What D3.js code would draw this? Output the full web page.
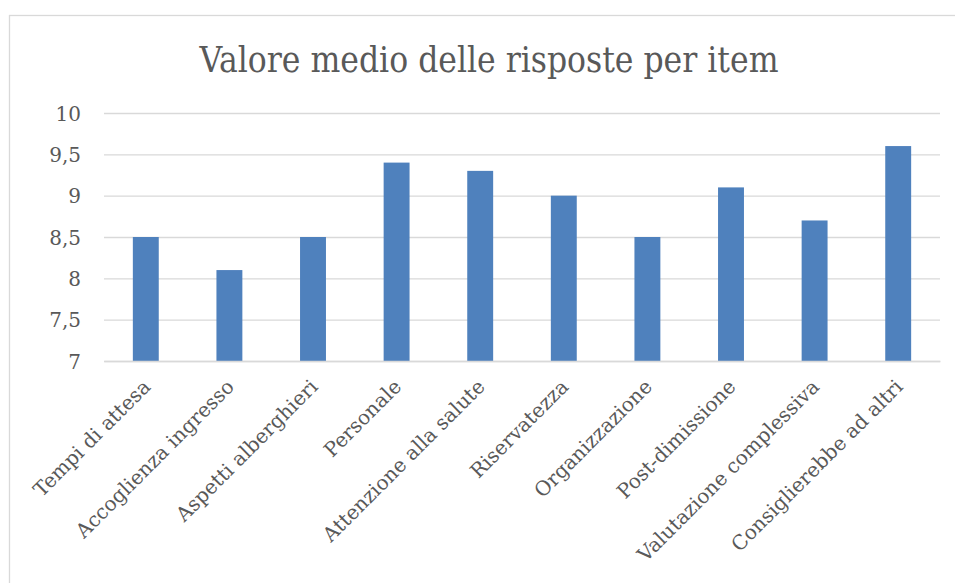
<!DOCTYPE html>
<html>
<head>
<meta charset="utf-8">
<script src="https://cdn.jsdelivr.net/npm/d3@7"></script>
<style>
  html, body { margin: 0; padding: 0; background: #fff; }
  svg text { font-family: "DejaVu Serif", serif; fill: #595959; }
  svg text.title { font-stretch: condensed; }
</style>
</head>
<body>
<div id="chart"></div>
<script>
(function() {

    var categories = ["Tempi di attesa", "Accoglienza ingresso", "Aspetti alberghieri", "Personale",
        "Attenzione alla salute", "Riservatezza", "Organizzazione", "Post-dimissione",
        "Valutazione complessiva", "Consiglierebbe ad altri"]
    var values = [8.5, 8.1, 8.5, 9.4, 9.3, 9.0, 8.5, 9.1, 8.7, 9.6]
    var yTicks = [7, 7.5, 8, 8.5, 9, 9.5, 10]
    var yTickLabels = ["7", "7,5", "8", "8,5", "9", "9,5", "10"]
    var title = "Valore medio delle risposte per item"

    var width = 955, height = 583
    var left = 104, right = 940, top = 113, bottom = 361

    var svg = d3.select("#chart").append("svg")
        .attr("width", width)
        .attr("height", height)

    // chart frame (right and bottom edges fall outside the picture)
    svg.append("rect")
        .attr("x", 9.5).attr("y", 15.5)
        .attr("width", 970).attr("height", 600)
        .attr("fill", "#fff")
        .attr("stroke", "#d9d9d9")
        .attr("stroke-width", 1.3)

    var x = d3.scaleBand()
        .domain(categories)
        .range([left, right])
        .paddingInner(0.69)
        .paddingOuter(0.345)

    var y = d3.scaleLinear()
        .domain([7, 10])
        .range([bottom, top])

    svg.append("text")
        .attr("class", "title")
        .attr("x", 489)
        .attr("y", 72)
        .attr("text-anchor", "middle")
        .style("font-size", "35px")
        .text(title)

    var yAxis = d3.axisLeft(y)
        .tickValues(yTicks)
        .tickFormat(function(d, i) { return yTickLabels[i] })
        .tickSize(-(right - left))
        .tickPadding(23)

    var gy = svg.append("g")
        .attr("transform", "translate(" + left + ",0)")
        .call(yAxis)
    gy.select(".domain").remove()
    gy.selectAll("line").attr("stroke", "#d9d9d9").attr("stroke-width", 1.3)
    gy.selectAll("text")
        .style("font-size", "20px")
        .attr("dy", "0.35em")

    svg.append("g")
        .selectAll("rect")
        .data(values)
        .enter()
        .append("rect")
        .attr("x", function(d, i) { return x(categories[i]) })
        .attr("y", function(d) { return y(d) })
        .attr("width", x.bandwidth())
        .attr("height", function(d) { return bottom - y(d) })
        .attr("fill", "#4f81bd")

    var xAxis = d3.axisBottom(x).tickSize(0).tickPadding(0)
    var gx = svg.append("g")
        .attr("transform", "translate(0," + bottom + ")")
        .call(xAxis)
    gx.select(".domain").attr("stroke", "#d9d9d9").attr("stroke-width", 1.3)
    gx.selectAll("text")
        .style("font-size", "20px")
        .attr("text-anchor", "end")
        .attr("y", 0)
        .attr("dy", "0.35em")
        .attr("transform", "translate(1,22) rotate(-45)")

})()
</script>
</body>
</html>
